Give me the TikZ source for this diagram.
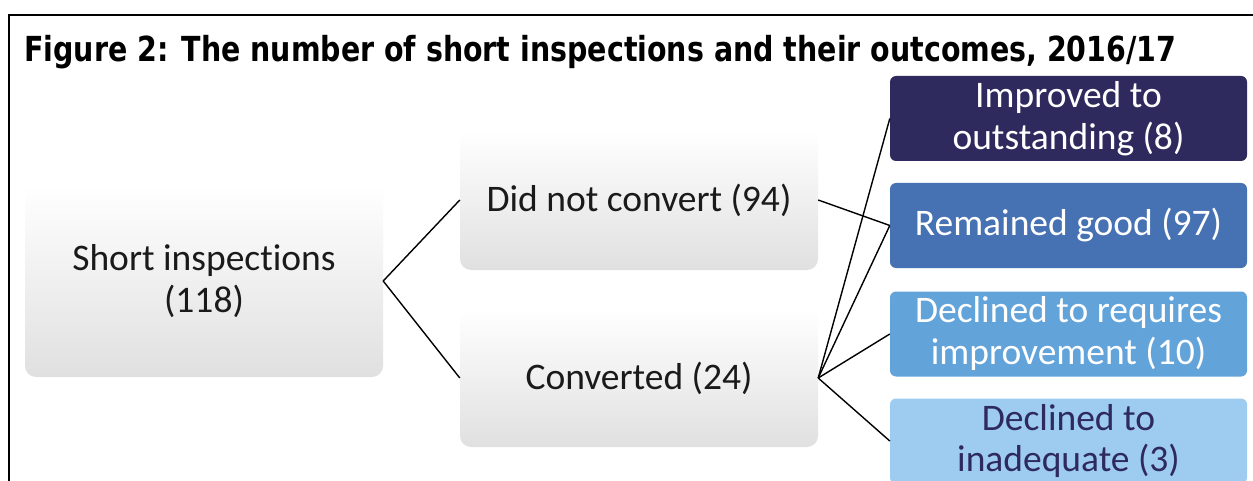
\documentclass[tikz,border=0pt]{standalone}
\usepackage{fontspec}
\setmainfont{Carlito}[Ligatures=NoCommon]
\newfontfamily\titlefont{DejaVu Sans}
\definecolor{navy}{HTML}{2E2A5E}
\definecolor{goodblue}{HTML}{4671B3}
\definecolor{reqblue}{HTML}{62A3DA}
\definecolor{inadblue}{HTML}{9DCCF0}
\definecolor{boxgray}{HTML}{E0E0E0}
\definecolor{txt}{HTML}{1A1A1A}
\tikzset{
  boxtext/.style={align=center, font=\fontsize{37.5}{42}\selectfont, inner sep=0pt},
  graybox/.style={boxtext, rounded corners=11pt, top color=white, middle color=white, bottom color=boxgray, text=txt, minimum width=358pt},
  outbox/.style={boxtext, rounded corners=6pt, minimum width=357pt, minimum height=85pt},
  link/.style={draw=black, line width=1.4pt},
  frame/.style={line width=2pt}
}
\begin{document}
\begin{tikzpicture}[x=1pt,y=-1pt]
\useasboundingbox (0,0) rectangle (1253,481);
\clip (0,0) rectangle (1253,481);
\fill[white] (0,0) rectangle (1253,481);
% frame
\draw[frame] (9,15) -- (1253,15);
\draw[frame] (9,14) -- (9,481);
% title
\node[anchor=base west, inner sep=0pt, font=\titlefont\bfseries\fontsize{34.5}{40}\selectfont] (title) at (24,62) {\scalebox{0.825}[1]{Figure 2: The number of short inspections and their outcomes, 2016/17}};
% gray boxes
\node[graybox, minimum height=192pt] (si) at (204,281) {Short inspections\\(118)};
\node[graybox, minimum height=140pt] (dnc) at (639,200) {Did not convert (94)};
\node[graybox, minimum height=138pt] (conv) at (639,378) {Converted (24)};
% outcome boxes
\node[outbox, fill=navy, text=white] (imp) at (1068.5,118.5) {Improved to\\outstanding (8)};
\node[outbox, fill=goodblue, text=white] (good) at (1068.5,225.5) {Remained good (97)};
\node[outbox, fill=reqblue, text=white] (req) at (1068.5,334) {Declined to requires\\improvement (10)};
\node[outbox, fill=inadblue, text=navy] (inad) at (1068.5,441) {Declined to\\inadequate (3)};
% connectors
\draw[link] (si.east) -- (dnc.west);
\draw[link] (si.east) -- (conv.west);
\draw[link] (dnc.east) -- (good.west);
\draw[link] (conv.east) -- (imp.west);
\draw[link] (conv.east) -- (good.west);
\draw[link] (conv.east) -- (req.west);
\draw[link] (conv.east) -- (inad.west);
\end{tikzpicture}
\end{document}
